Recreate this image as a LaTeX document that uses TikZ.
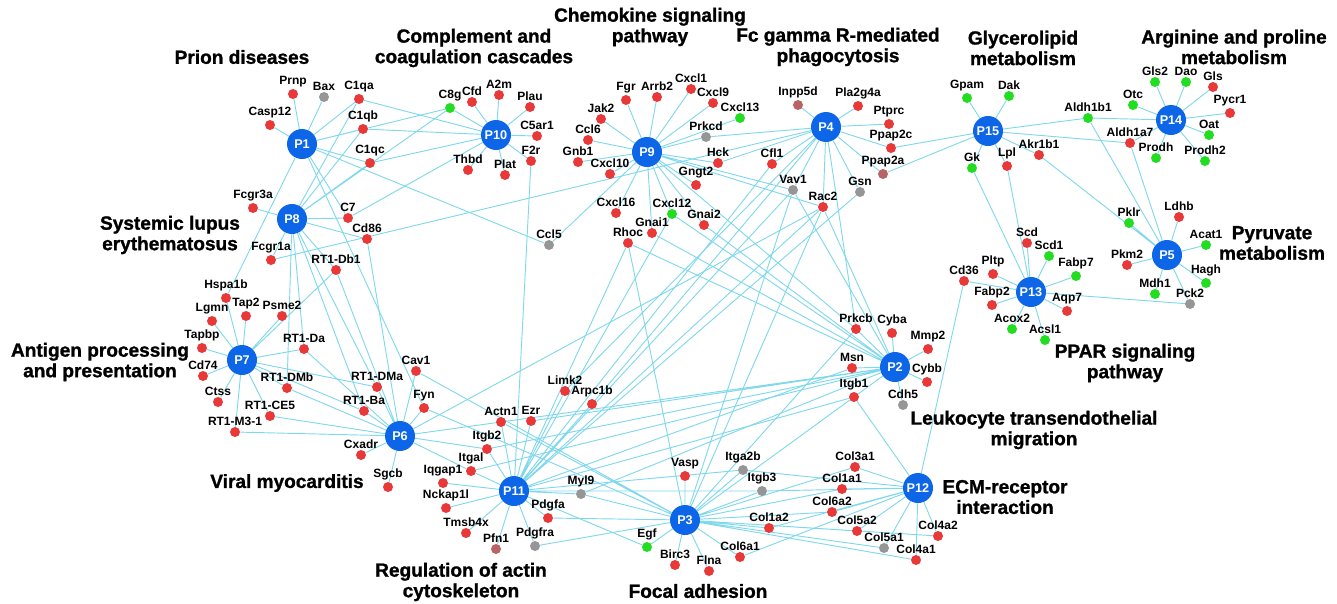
\documentclass[tikz,border=0pt]{standalone}
\usepackage{fontspec}
\setmainfont{Liberation Sans}
\newfontfamily\titlefont{Liberation Sans}[BoldFeatures={FakeBold=1.2}]
\usepackage{tikz}
\pgfdeclarelayer{bg}
\pgfsetlayers{bg,main}
\definecolor{hubblue}{RGB}{13,102,232}
\definecolor{gred}{RGB}{232,56,56}
\definecolor{ggreen}{RGB}{34,221,34}
\definecolor{ggray}{RGB}{150,150,150}
\definecolor{gmauve}{RGB}{185,100,100}
\definecolor{linkcyan}{RGB}{128,216,236}

\begin{document}
\begin{tikzpicture}[x=0.75pt, y=-0.75pt,
    hub/.style={circle, fill=hubblue, text=white, font=\bfseries\fontsize{9.5}{10}\selectfont, minimum size=22.5pt, inner sep=0pt},
    gene/.style={circle, minimum size=7.5pt, inner sep=0pt},
    rdot/.style={gene, fill=gred},
    gdot/.style={gene, fill=ggreen},
    ydot/.style={gene, fill=ggray},
    mdot/.style={gene, fill=gmauve},
    every label/.style={font=\bfseries\fontsize{9}{10}\selectfont, inner sep=1pt},
    label distance=0pt,
    link/.style={draw=linkcyan, line width=0.7pt},
    pathway/.style={font=\titlefont\bfseries\fontsize{14.3}{15.4}\selectfont, align=center}]
    \useasboundingbox (0,0) rectangle (1337,603);
    % pathway hubs
    \node[hub] (p1) at (302,144) {P1};
    \node[hub] (p2) at (895,367) {P2};
    \node[hub] (p3) at (685,520) {P3};
    \node[hub] (p4) at (826,127) {P4};
    \node[hub] (p5) at (1167,255) {P5};
    \node[hub] (p6) at (400,436) {P6};
    \node[hub] (p7) at (242,360) {P7};
    \node[hub] (p8) at (292,219) {P8};
    \node[hub] (p9) at (647,152) {P9};
    \node[hub] (p10) at (496,135) {P10};
    \node[hub] (p11) at (514,491) {P11};
    \node[hub] (p12) at (918,488) {P12};
    \node[hub] (p13) at (1031,292) {P13};
    \node[hub] (p14) at (1171,120) {P14};
    \node[hub] (p15) at (988,131) {P15};
    % pathway names
    \node[pathway] (tprion) at (242,57) {Prion diseases};
    \node[pathway] (tcomp) at (474,48) {Complement and\\coagulation cascades};
    \node[pathway] (tchem) at (650,27) {Chemokine signaling\\pathway};
    \node[pathway] (tfc) at (838,47) {Fc gamma R-mediated\\phagocytosis};
    \node[pathway] (tgly) at (1023,48) {Glycerolipid\\metabolism};
    \node[pathway] (targ) at (1234,47) {Arginine and proline\\metabolism};
    \node[pathway] (tsle) at (170,235) {Systemic lupus\\erythematosus};
    \node[pathway] (tant) at (100,362) {Antigen processing\\and presentation};
    \node[pathway] (tvir) at (287,483) {Viral myocarditis};
    \node[pathway] (treg) at (461,582) {Regulation of actin\\cytoskeleton};
    \node[pathway] (tfoc) at (698,591) {Focal adhesion};
    \node[pathway] (tecm) at (1005,497) {ECM-receptor\\interaction};
    \node[pathway] (tleu) at (1034,430) {Leukocyte transendothelial\\migration};
    \node[pathway] (tppar) at (1125,363) {PPAR signaling\\pathway};
    \node[pathway] (tpyr) at (1272,243) {Pyruvate\\metabolism};
    % genes, top left
    \node[rdot, label=above:Prnp] (prnp) at (293,94) {};
    \node[ydot, label=above:Bax] (bax) at (324,97) {};
    \node[rdot, label=above:C1qa] (c1qa) at (359,99) {};
    \node[rdot, label=above:Casp12] (casp12) at (270,125) {};
    \node[rdot, label=above:C1qb] (c1qb) at (363,129) {};
    \node[rdot, label=above:C1qc] (c1qc) at (370,163) {};
    \node[gdot, label=above:C8g] (c8g) at (450,108) {};
    \node[rdot, label=above:Cfd] (cfd) at (472,102) {};
    \node[rdot, label=above:A2m] (a2m) at (499,95) {};
    \node[rdot, label=above:Plau] (plau) at (530,107) {};
    \node[rdot, label=above:C5ar1] (c5ar1) at (537,136) {};
    \node[rdot, label=above:F2r] (f2r) at (531,161) {};
    \node[rdot, label=above:Thbd] (thbd) at (468,170) {};
    \node[rdot, label=above:Plat] (plat) at (505,175) {};
    % genes, top middle
    \node[rdot, label=above:Jak2] (jak2) at (601,119) {};
    \node[rdot, label=above:Fgr] (fgr) at (626,100) {};
    \node[rdot, label=above:Arrb2] (arrb2) at (657,97) {};
    \node[rdot, label=above:Cxcl1] (cxcl1) at (691,89) {};
    \node[rdot, label=above:Cxcl9] (cxcl9) at (713,103) {};
    \node[gdot, label=above:Cxcl13] (cxcl13) at (740,118) {};
    \node[ydot, label=above:Prkcd] (prkcd) at (706,137) {};
    \node[rdot, label=above:Ccl6] (ccl6) at (588,140) {};
    \node[rdot, label=above:Gnb1] (gnb1) at (578,162) {};
    \node[rdot, label=above:Cxcl10] (cxcl10) at (610,174) {};
    \node[rdot, label=above:Hck] (hck) at (718,163) {};
    \node[rdot, label=above:Gngt2] (gngt2) at (696,185) {};
    \node[rdot, label=above:Cxcl16] (cxcl16) at (616,213) {};
    \node[gdot, label=above:Cxcl12] (cxcl12) at (672,214) {};
    \node[rdot, label=above:Gnai2] (gnai2) at (704,225) {};
    \node[rdot, label=above:Gnai1] (gnai1) at (652,233) {};
    \node[rdot, label=above:Rhoc] (rhoc) at (628,243) {};
    \node[ydot, label=above:Ccl5] (ccl5) at (549,245) {};
    \node[mdot, label=above:Inpp5d] (inpp5d) at (798,105) {};
    \node[rdot, label=above:Pla2g4a] (pla2g4a) at (858,106) {};
    \node[rdot, label=above:Ptprc] (ptprc) at (889,124) {};
    \node[rdot, label=above:Ppap2c] (ppap2c) at (891,148) {};
    \node[mdot, label=above:Ppap2a] (ppap2a) at (883,174) {};
    \node[rdot, label=above:Cfl1] (cfl1) at (772,164) {};
    \node[ydot, label=above:Vav1] (vav1) at (793,190) {};
    \node[rdot, label=above:Rac2] (rac2) at (823,207) {};
    \node[ydot, label=above:Gsn] (gsn) at (860,192) {};
    % genes, top right
    \node[gdot, label=above:Gpam] (gpam) at (967,98) {};
    \node[gdot, label=above:Dak] (dak) at (1009,96) {};
    \node[gdot, label=above:Gk] (gk) at (972,168) {};
    \node[rdot, label=above:Lpl] (lpl) at (1007,166) {};
    \node[rdot, label=above:Akr1b1] (akr1b1) at (1039,155) {};
    \node[gdot, label=above:Aldh1b1] (aldh1b1) at (1088,118) {};
    \node[gdot, label=above:Otc] (otc) at (1133,105) {};
    \node[gdot, label=above:Gls2] (gls2) at (1155,82) {};
    \node[gdot, label=above:Dao] (dao) at (1186,82) {};
    \node[rdot, label=above:Gls] (gls) at (1213,87) {};
    \node[rdot, label=above:Pycr1] (pycr1) at (1230,113) {};
    \node[gdot, label=above:Oat] (oat) at (1209,135) {};
    \node[rdot, label=above:Aldh1a7] (aldh1a7) at (1130,143) {};
    \node[gdot, label=above:Prodh] (prodh) at (1156,158) {};
    \node[gdot, label=above:Prodh2] (prodh2) at (1205,161) {};
    \node[gdot, label=above:Pklr] (pklr) at (1129,223) {};
    \node[rdot, label=above:Ldhb] (ldhb) at (1179,217) {};
    \node[gdot, label=above:Acat1] (acat1) at (1206,245) {};
    \node[rdot, label=above:Pkm2] (pkm2) at (1127,265) {};
    \node[gdot, label=above:Hagh] (hagh) at (1206,283) {};
    \node[gdot, label=above:Mdh1] (mdh1) at (1155,294) {};
    \node[ydot, label=above:Pck2] (pck2) at (1190,304) {};
    \node[rdot, label=above:Scd] (scd) at (1027,243) {};
    \node[gdot, label=above:Scd1] (scd1) at (1049,256) {};
    \node[gdot, label=above:Fabp7] (fabp7) at (1076,276) {};
    \node[rdot, label=above:Pltp] (pltp) at (993,274) {};
    \node[rdot, label=above:Cd36] (cd36) at (964,281) {};
    \node[rdot, label=above:Fabp2] (fabp2) at (992,305) {};
    \node[rdot, label=above:Aqp7] (aqp7) at (1067,311) {};
    \node[gdot, label=above:Acox2] (acox2) at (1012,329) {};
    \node[gdot, label=above:Acsl1] (acsl1) at (1045,340) {};
    % genes, middle right
    \node[rdot, label=above:Prkcb] (prkcb) at (856,329) {};
    \node[rdot, label=above:Cyba] (cyba) at (892,333) {};
    \node[rdot, label=above:Mmp2] (mmp2) at (928,349) {};
    \node[rdot, label=above:Msn] (msn) at (852,368) {};
    \node[rdot, label=above:Cybb] (cybb) at (927,382) {};
    \node[rdot, label=above:Itgb1] (itgb1) at (854,397) {};
    \node[ydot, label=above:Cdh5] (cdh5) at (903,405) {};
    % genes, left
    \node[rdot, label=above:Fcgr3a] (fcgr3a) at (253,208) {};
    \node[rdot, label=above:C7] (c7) at (348,218) {};
    \node[rdot, label=above:Cd86] (cd86) at (367,239) {};
    \node[rdot, label=above:Fcgr1a] (fcgr1a) at (271,260) {};
    \node[rdot, label=above:RT1-Db1] (rtdb1) at (336,270) {};
    \node[rdot, label=above:Hspa1b] (hspa1b) at (226,298) {};
    \node[rdot, label=above:Tap2] (tap2) at (246,316) {};
    \node[rdot, label=above:Psme2] (psme2) at (282,316) {};
    \node[rdot, label=above:Lgmn] (lgmn) at (212,321) {};
    \node[rdot, label=above:Tapbp] (tapbp) at (202,348) {};
    \node[rdot, label=above:RT1-Da] (rtda) at (304,349) {};
    \node[rdot, label=above:Cd74] (cd74) at (203,376) {};
    \node[rdot, label=above:RT1-DMb] (rtdmb) at (287,388) {};
    \node[rdot, label=above:RT1-DMa] (rtdma) at (377,387) {};
    \node[rdot, label=above:Cav1] (cav1) at (416,371) {};
    \node[rdot, label=above:Ctss] (ctss) at (218,402) {};
    \node[rdot, label=above:RT1-CE5] (rtce5) at (270,416) {};
    \node[rdot, label=above:RT1-Ba] (rtba) at (364,411) {};
    \node[rdot, label=above:Fyn] (fyn) at (424,408) {};
    \node[rdot, label=above:RT1-M3-1] (rtm31) at (235,432) {};
    \node[rdot, label=above:Cxadr] (cxadr) at (361,455) {};
    \node[rdot, label=above:Sgcb] (sgcb) at (388,487) {};
    % genes, bottom
    \node[rdot, label=above:Iqgap1] (iqgap1) at (443,483) {};
    \node[rdot, label=above:Nckap1l] (nckap1l) at (446,508) {};
    \node[rdot, label=above:Tmsb4x] (tmsb4x) at (466,533) {};
    \node[rdot, label=above:Actn1] (actn1) at (501,422) {};
    \node[rdot, label=above:Ezr] (ezr) at (531,421) {};
    \node[rdot, label=above:Itgb2] (itgb2) at (487,449) {};
    \node[rdot, label=above:Itgal] (itgal) at (471,471) {};
    \node[rdot, label=above:Limk2] (limk2) at (565,391) {};
    \node[rdot, label=above:Arpc1b] (arpc1b) at (592,404) {};
    \node[rdot, label=above:Pdgfa] (pdgfa) at (548,518) {};
    \node[mdot, label=above:Pfn1] (pfn1) at (496,549) {};
    \node[ydot, label=above:Pdgfra] (pdgfra) at (535,546) {};
    \node[ydot, label=above:Myl9] (myl9) at (581,494) {};
    \node[rdot, label=above:Vasp] (vasp) at (685,476) {};
    \node[ydot, label=above:Itga2b] (itga2b) at (743,470) {};
    \node[ydot, label=above:Itgb3] (itgb3) at (762,491) {};
    \node[gdot, label=above:Egf] (egf) at (647,547) {};
    \node[rdot, label=above:Birc3] (birc3) at (675,565) {};
    \node[rdot, label=above:Flna] (flna) at (709,571) {};
    \node[rdot, label=above:Col6a1] (col6a1) at (740,557) {};
    \node[rdot, label=above:Col1a2] (col1a2) at (769,528) {};
    \node[rdot, label=above:Col3a1] (col3a1) at (855,467) {};
    \node[rdot, label=above:Col1a1] (col1a1) at (842,489) {};
    \node[rdot, label=above:Col6a2] (col6a2) at (832,512) {};
    \node[rdot, label=above:Col5a2] (col5a2) at (857,531) {};
    \node[ydot, label=above:Col5a1] (col5a1) at (884,548) {};
    \node[rdot, label=above:Col4a1] (col4a1) at (916,560) {};
    \node[rdot, label=above:Col4a2] (col4a2) at (938,536) {};
    % links, behind everything
    \begin{pgfonlayer}{bg}
    % P1 prion diseases
    \draw[link] (p1) -- (prnp) (p1) -- (bax) (p1) -- (c1qa) (p1) -- (casp12) (p1) -- (c1qb) (p1) -- (c1qc)
        (p1) -- (c8g) (p1) -- (c7) (p1) -- (ccl5) (p1) -- (fyn) (p1) -- (hspa1b);
    % P10 complement and coagulation
    \draw[link] (p10) -- (c8g) (p10) -- (cfd) (p10) -- (a2m) (p10) -- (plau) (p10) -- (c5ar1) (p10) -- (f2r)
        (p10) -- (thbd) (p10) -- (plat) (p10) -- (c1qa) (p10) -- (c1qb) (p10) -- (c1qc) (p10) -- (c7);
    % P9 chemokine signaling
    \draw[link] (p9) -- (jak2) (p9) -- (fgr) (p9) -- (arrb2) (p9) -- (cxcl1) (p9) -- (cxcl9) (p9) -- (cxcl13)
        (p9) -- (prkcd) (p9) -- (ccl6) (p9) -- (gnb1) (p9) -- (cxcl10) (p9) -- (hck) (p9) -- (gngt2)
        (p9) -- (cxcl16) (p9) -- (cxcl12) (p9) -- (gnai1) (p9) -- (gnai2) (p9) -- (ccl5) (p9) -- (vav1)
        (p9) -- (rac2) (p9) -- (prkcb);
    % P4 Fc gamma R-mediated phagocytosis
    \draw[link] (p4) -- (inpp5d) (p4) -- (pla2g4a) (p4) -- (ptprc) (p4) -- (ppap2c) (p4) -- (ppap2a) (p4) -- (gsn)
        (p4) -- (rac2) (p4) -- (vav1) (p4) -- (cfl1) (p4) -- (hck) (p4) -- (prkcd) (p4) -- (prkcb)
        (p4) -- (arpc1b) (p4) -- (limk2) (p4) -- (fcgr1a);
    % P15 glycerolipid metabolism
    \draw[link] (p15) -- (gpam) (p15) -- (dak) (p15) -- (gk) (p15) -- (lpl) (p15) -- (akr1b1) (p15) -- (aldh1b1)
        (p15) -- (aldh1a7) (p15) -- (ppap2c) (p15) -- (ppap2a);
    % P14 arginine and proline metabolism
    \draw[link] (p14) -- (otc) (p14) -- (gls2) (p14) -- (dao) (p14) -- (gls) (p14) -- (pycr1) (p14) -- (oat)
        (p14) -- (prodh) (p14) -- (prodh2) (p14) -- (aldh1b1) (p14) -- (aldh1a7);
    % P5 pyruvate metabolism
    \draw[link] (p5) -- (pklr) (p5) -- (ldhb) (p5) -- (acat1) (p5) -- (pkm2) (p5) -- (hagh) (p5) -- (mdh1)
        (p5) -- (pck2) (p5) -- (aldh1b1) (p5) -- (aldh1a7) (p5) -- (akr1b1);
    % P13 PPAR signaling
    \draw[link] (p13) -- (scd) (p13) -- (scd1) (p13) -- (fabp7) (p13) -- (pltp) (p13) -- (cd36) (p13) -- (fabp2)
        (p13) -- (aqp7) (p13) -- (acox2) (p13) -- (acsl1) (p13) -- (pck2) (p13) -- (gk) (p13) -- (lpl);
    % P8 systemic lupus erythematosus
    \draw[link] (p8) -- (fcgr3a) (p8) -- (fcgr1a) (p8) -- (c7) (p8) -- (cd86) (p8) -- (rtdb1) (p8) -- (c1qa)
        (p8) -- (c1qb) (p8) -- (c1qc) (p8) -- (c8g) (p8) -- (rtda) (p8) -- (rtba) (p8) -- (rtdmb) (p8) -- (rtdma);
    % P7 antigen processing and presentation
    \draw[link] (p7) -- (hspa1b) (p7) -- (tap2) (p7) -- (psme2) (p7) -- (lgmn) (p7) -- (tapbp) (p7) -- (rtda)
        (p7) -- (cd74) (p7) -- (rtdmb) (p7) -- (ctss) (p7) -- (rtce5) (p7) -- (rtm31) (p7) -- (rtdb1)
        (p7) -- (rtdma) (p7) -- (rtba);
    % P6 viral myocarditis
    \draw[link] (p6) -- (cav1) (p6) -- (fyn) (p6) -- (cxadr) (p6) -- (sgcb) (p6) -- (rtba) (p6) -- (rtdma)
        (p6) -- (rtce5) (p6) -- (rtm31) (p6) -- (rtdb1) (p6) -- (rtda) (p6) -- (rtdmb) (p6) -- (cd86)
        (p6) -- (itgb2) (p6) -- (itgal) (p6) -- (actn1) (p6) -- (rac2);
    % P11 regulation of actin cytoskeleton
    \draw[link] (p11) -- (actn1) (p11) -- (ezr) (p11) -- (itgb2) (p11) -- (itgal) (p11) -- (iqgap1) (p11) -- (nckap1l)
        (p11) -- (tmsb4x) (p11) -- (pfn1) (p11) -- (pdgfra) (p11) -- (pdgfa) (p11) -- (myl9) (p11) -- (f2r)
        (p11) -- (limk2) (p11) -- (arpc1b) (p11) -- (cfl1) (p11) -- (vav1) (p11) -- (rac2) (p11) -- (gsn)
        (p11) -- (msn) (p11) -- (itgb1) (p11) -- (itga2b) (p11) -- (itgb3) (p11) -- (egf) (p11) -- (cxcl12)
        (p11) -- (rhoc);
    % P3 focal adhesion
    \draw[link] (p3) -- (vasp) (p3) -- (itga2b) (p3) -- (itgb3) (p3) -- (egf) (p3) -- (birc3) (p3) -- (flna)
        (p3) -- (col6a1) (p3) -- (col1a2) (p3) -- (col3a1) (p3) -- (col1a1) (p3) -- (col6a2) (p3) -- (col5a2)
        (p3) -- (col5a1) (p3) -- (col4a1) (p3) -- (col4a2) (p3) -- (pdgfa) (p3) -- (pdgfra) (p3) -- (myl9)
        (p3) -- (actn1) (p3) -- (itgb1) (p3) -- (rac2) (p3) -- (vav1) (p3) -- (cav1) (p3) -- (fyn)
        (p3) -- (rhoc) (p3) -- (prkcb);
    % P12 ECM-receptor interaction
    \draw[link] (p12) -- (col3a1) (p12) -- (col1a1) (p12) -- (col6a2) (p12) -- (col5a2) (p12) -- (col5a1)
        (p12) -- (col4a1) (p12) -- (col4a2) (p12) -- (col6a1) (p12) -- (col1a2) (p12) -- (itgb1)
        (p12) -- (itga2b) (p12) -- (itgb3) (p12) -- (cd36);
    % P2 leukocyte transendothelial migration
    \draw[link] (p2) -- (prkcb) (p2) -- (cyba) (p2) -- (mmp2) (p2) -- (msn) (p2) -- (itgb1) (p2) -- (cybb)
        (p2) -- (cdh5) (p2) -- (gnai1) (p2) -- (gnai2) (p2) -- (rac2) (p2) -- (vav1) (p2) -- (itgb2)
        (p2) -- (itgal) (p2) -- (actn1) (p2) -- (ezr) (p2) -- (cxcl12) (p2) -- (rhoc) (p2) -- (myl9);
    \end{pgfonlayer}
\end{tikzpicture}
\end{document}
